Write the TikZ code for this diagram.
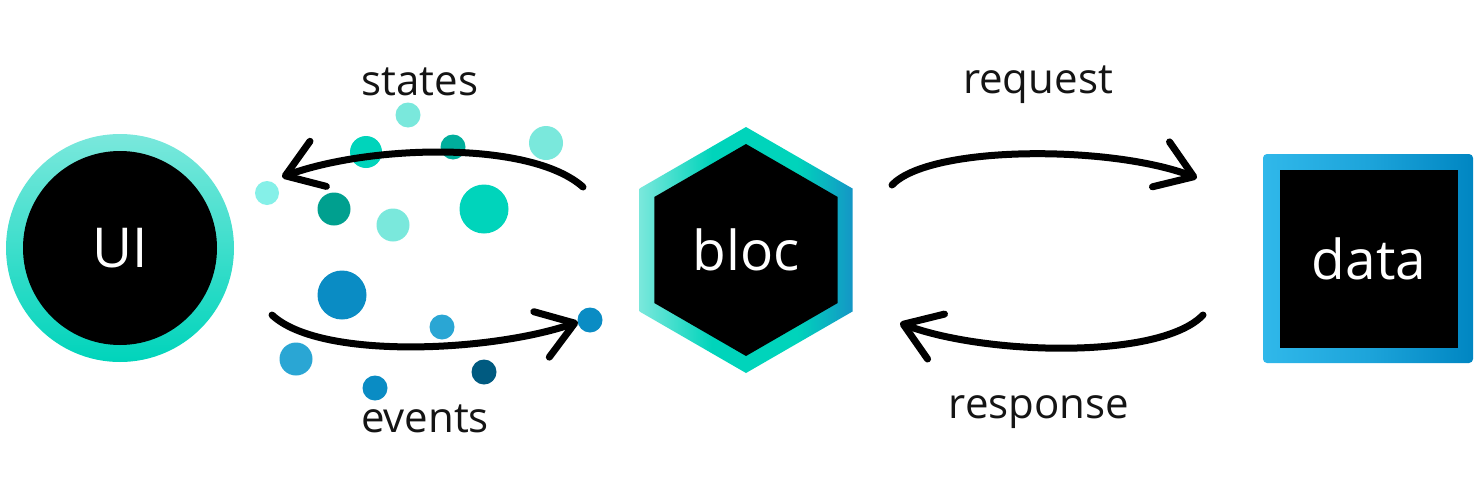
\documentclass[tikz,border=0pt]{standalone}
\usepackage{fontspec}
\setmainfont{Open Sans}
\usetikzlibrary{arrows.meta}
\definecolor{lightteal}{HTML}{7AE8DC}
\definecolor{teal1}{HTML}{00D4BB}
\definecolor{teal2}{HTML}{00AE9C}
\definecolor{teal3}{HTML}{00A08F}
\definecolor{lightcyan}{HTML}{85F0E8}
\definecolor{blue1}{HTML}{0A8CC4}
\definecolor{blue2}{HTML}{2AA6D4}
\definecolor{blue3}{HTML}{005A80}
\definecolor{hexblue}{HTML}{1496C6}
\definecolor{dataleft}{HTML}{30B8EA}
\definecolor{dataright}{HTML}{0086C2}
\definecolor{labelgray}{HTML}{141414}
\pgfdeclarehorizontalshading{hexshade}{100bp}{color(0bp)=(lightteal); color(25bp)=(lightteal); color(42bp)=(teal1); color(62bp)=(teal1); color(75bp)=(hexblue); color(100bp)=(hexblue)}
\pgfdeclarehorizontalshading{datashade}{100bp}{color(0bp)=(dataleft); color(25bp)=(dataleft); color(50bp)=(dataleft!60!dataright); color(75bp)=(dataright); color(100bp)=(dataright)}
\tikzset{
  lbl/.style={anchor=base, text=labelgray, font=\fontsize{42}{48}\selectfont, inner sep=0pt},
  big/.style={text=white, font=\fontsize{55}{60}\selectfont, inner sep=0pt},
  flow/.style={line width=7pt, line cap=round, line join=round,
    -{Straight Barb[length=35pt, width=48pt, round]}},
  dot/.style={circle, inner sep=0pt, minimum size=#1},
}
\begin{document}
\begin{tikzpicture}[x=1pt, y=-1pt]
\useasboundingbox (0,0) rectangle (1480,482);
\fill[white] (0,0) rectangle (1480,482);

% UI
\node[circle, minimum size=228pt, inner sep=0pt, top color=lightteal, bottom color=teal1] (uiring) at (120,248) {};
\node[circle, minimum size=194pt, inner sep=0pt, fill=black, big] (ui) at (uiring.center) {UI};

% bloc hexagon
\shade[shading=hexshade]
  (746,127) -- (639.5,188.5) -- (639.5,311.5) -- (746,373) -- (852.5,311.5) -- (852.5,188.5) -- cycle;
\fill[black]
  (746,144) -- (654.3,197) -- (654.3,303) -- (746,356) -- (837.7,303) -- (837.7,197) -- cycle;
\node[big] (bloc) at (746,250) {bloc};

% data
\node[rectangle, rounded corners=4pt, minimum width=210pt, minimum height=209pt, inner sep=0pt,
  shading=datashade] (dataring) at (1368,258.5) {};
\node[rectangle, minimum width=178pt, minimum height=178pt, inner sep=0pt, fill=black, big] (data) at (1369,259) {data};

% dots (states)
\node[dot=25pt, fill=lightteal] (d1) at (408,115) {};
\node[dot=32pt, fill=teal1] (d2) at (366,152) {};
\node[dot=25pt, fill=teal2] (d3) at (453,147) {};
\node[dot=34pt, fill=lightteal] (d4) at (546,143) {};
\node[dot=24pt, fill=lightcyan] (d5) at (267,193) {};
\node[dot=33pt, fill=teal3] (d6) at (334,209) {};
\node[dot=33pt, fill=lightteal] (d7) at (393,225) {};
\node[dot=49pt, fill=teal1] (d8) at (484,209) {};
% dots (events)
\node[dot=49pt, fill=blue1] (e1) at (342,295) {};
\node[dot=25pt, fill=blue2] (e2) at (442,327) {};
\node[dot=25pt, fill=blue1] (e3) at (590,320) {};
\node[dot=33pt, fill=blue2] (e4) at (296,359) {};
\node[dot=25pt, fill=blue1] (e5) at (375,388) {};
\node[dot=25pt, fill=blue3] (e6) at (484,372) {};

% arrow endpoints
\coordinate (s0) at (583,187);
\coordinate (s1) at (282,177);
\coordinate (v0) at (272,315);
\coordinate (v1) at (578,322);
\coordinate (q0) at (892,185);
\coordinate (q1) at (1197,178);
\coordinate (r0) at (1203,315);
\coordinate (r1) at (900,323);

\draw[flow] (s0) .. controls (530,140) and (370,145) .. (s1);
\draw[flow] (v0) .. controls (320,360) and (490,352) .. (v1);
\draw[flow] (q0) .. controls (930,145) and (1110,145) .. (q1);
\draw[flow] (r0) .. controls (1160,360) and (985,355) .. (r1);

% labels
\node[lbl] (states) at (420,95) {states};
\node[lbl] (events) at (425,432) {events};
\node[lbl] (request) at (1038,93) {request};
\node[lbl] (response) at (1039,418) {response};
\end{tikzpicture}
\end{document}
